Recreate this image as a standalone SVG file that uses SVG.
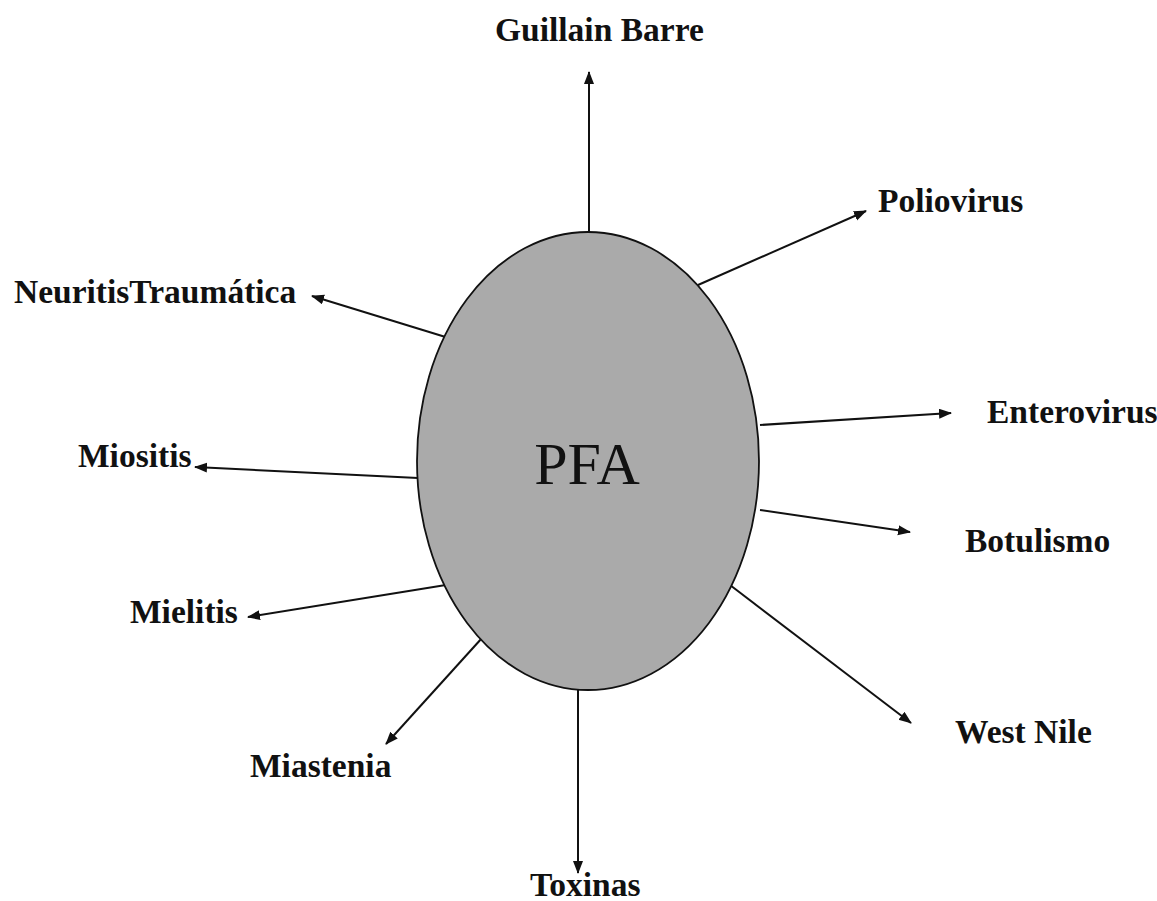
<svg xmlns="http://www.w3.org/2000/svg" width="1157" height="901" viewBox="0 0 1157 901">
<style>
.lbl{font-family:"Liberation Serif","Times New Roman",serif;font-weight:bold;font-size:33.5px;fill:#111}
.ctr{font-family:"Liberation Serif","Times New Roman",serif;font-size:60px;fill:#111}
.cn line{stroke:#111;stroke-width:2;marker-end:url(#ah)}
</style>
<defs>
<marker id="ah" markerUnits="userSpaceOnUse" markerWidth="14" markerHeight="12" refX="12" refY="5" orient="auto">
<path d="M0,0 L13,5 L0,10 z" fill="#111"/>
</marker>
</defs>
<rect width="1157" height="901" fill="#fff"/>
<g id="connectors" class="cn">
<line x1="589" y1="232" x2="589" y2="72"/>
<line x1="698" y1="285" x2="866" y2="211"/>
<line x1="452" y1="339" x2="312" y2="296"/>
<line x1="418" y1="478" x2="195" y2="467"/>
<line x1="452" y1="584" x2="248" y2="617"/>
<line x1="760" y1="425" x2="951" y2="413"/>
<line x1="760" y1="510" x2="910" y2="532"/>
<line x1="730" y1="585" x2="911" y2="723"/>
<line x1="482" y1="638" x2="386" y2="744"/>
<line x1="578" y1="690" x2="578" y2="873"/>
</g>
<g id="pfa">
<ellipse cx="588" cy="461" rx="171" ry="229" fill="#aaaaaa" stroke="#111" stroke-width="1.8"/>
<text class="ctr" x="587" y="484" text-anchor="middle">PFA</text>
</g>
<g id="guillain"><text class="lbl" x="495" y="41">Guillain Barre</text></g>
<g id="polio"><text class="lbl" x="878" y="212">Poliovirus</text></g>
<g id="neuritis"><text class="lbl" x="14" y="303">NeuritisTraumática</text></g>
<g id="miositis"><text class="lbl" x="78" y="467">Miositis</text></g>
<g id="mielitis"><text class="lbl" x="130" y="623">Mielitis</text></g>
<g id="entero"><text class="lbl" x="987" y="423">Enterovirus</text></g>
<g id="botulismo"><text class="lbl" x="965" y="552">Botulismo</text></g>
<g id="westnile"><text class="lbl" x="955" y="743">West Nile</text></g>
<g id="miastenia"><text class="lbl" x="250" y="777">Miastenia</text></g>
<g id="toxinas"><text class="lbl" x="530" y="896">Toxinas</text></g>
</svg>
